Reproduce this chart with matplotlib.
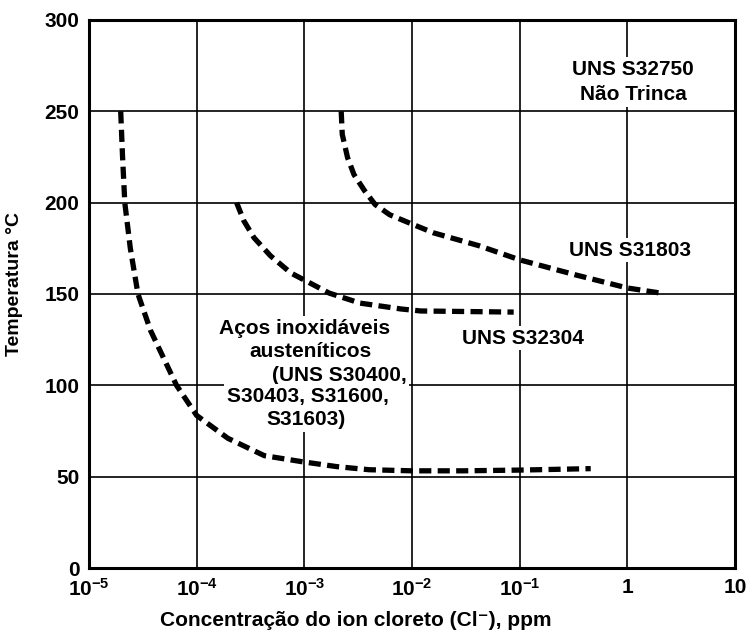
import matplotlib
matplotlib.use("Agg")
import matplotlib.pyplot as plt

plt.rcParams['font.family'] = ['Liberation Sans', 'DejaVu Sans']
plt.rcParams['mathtext.fontset'] = 'custom'
plt.rcParams['mathtext.rm'] = 'Liberation Sans:bold'
plt.rcParams['mathtext.it'] = 'Liberation Sans:bold'
plt.rcParams['mathtext.bf'] = 'Liberation Sans:bold'

# --- data ---
aust_x = [1.97e-5, 2.05e-5, 2.15e-5, 2.42e-5, 2.85e-5, 3.73e-5, 6.5e-5, 1.0e-4, 1.95e-4,
          4.25e-4, 9.5e-4, 2.0e-3, 4.0e-3, 1.0e-2, 3.0e-2, 1.0e-1, 0.457]
aust_T = [250, 225, 200, 175, 150, 130, 100, 83.5, 71, 61.5, 58.2, 55.5, 53.8, 53.2, 53.2, 53.6, 54.4]

s32304_x = [2.35e-4, 2.74e-4, 3.41e-4, 4.85e-4, 7.5e-4, 1.04e-3, 1.7e-3, 3.3e-3,
            7.9e-3, 1.21e-2, 8.8e-2]
s32304_T = [200, 190.1, 180.8, 170.9, 161.5, 157.1, 150.5, 145, 141.8, 140.7, 140.1]

s31803_x = [2.2e-3, 2.25e-3, 2.52e-3, 2.89e-3, 3.62e-3, 4.54e-3, 6.2e-3, 9.8e-3,
            1.58e-2, 4.2e-2, 1.0e-1, 0.334, 1.0, 2.04]
s31803_T = [250, 237.4, 224.7, 215.4, 206.6, 199, 193.4, 188.5, 183.5, 176.4, 168.7,
            160.4, 153.3, 150.5]

x_ticks = [1e-5, 1e-4, 1e-3, 1e-2, 1e-1, 1, 10]
x_tick_labels = [r'$10^{-5}$', r'$10^{-4}$', r'$10^{-3}$', r'$10^{-2}$', r'$10^{-1}$', '1', '10']
y_ticks = [0, 50, 100, 150, 200, 250, 300]

fig = plt.figure(figsize=(7.48, 6.32), dpi=100)
ax = fig.add_axes([89/748, 64/632, 646/748, 548/632])
ax.set_xscale('log')
ax.set_xlim(1e-5, 10)
ax.set_ylim(0, 300)
ax.set_xticks(x_ticks)
ax.set_xticklabels(x_tick_labels)
ax.set_yticks(y_ticks)
ax.minorticks_off()
ax.tick_params(length=0, labelsize=15, pad=7)
for lab in ax.get_xticklabels() + ax.get_yticklabels():
    lab.set_fontweight('bold')
ax.grid(True, color='black', linewidth=1.2, zorder=1)
ax.set_axisbelow(True)
for sp in ax.spines.values():
    sp.set_linewidth(2.2)
    sp.set_zorder(5)

dash = dict(color='black', linewidth=3.8, dashes=(2.3, 1.2), dash_capstyle='butt', zorder=4)
ax.plot(aust_x, aust_T, **dash)
ax.plot(s32304_x, s32304_T, **dash)
ax.plot(s31803_x, s31803_T, **dash)

tkw = dict(fontsize=15, fontweight='bold', ha='center', va='center', zorder=3,
           bbox=dict(facecolor='white', edgecolor='none', pad=2.0))
ax.text(1.13, 266, 'UNS S32750\nNão Trinca', linespacing=1.45, **tkw)
ax.text(1.06, 174, 'UNS S31803', **tkw)
ax.text(0.107, 125.8, 'UNS S32304', **tkw)
ax.text(1.0e-3, 131.3, 'Aços inoxidáveis', **tkw)
ax.text(1.14e-3, 118.7, 'austeníticos', **tkw)
ax.text(2.11e-3, 105.5, '(UNS S30400,', **tkw)
ax.text(1.07e-3, 94, 'S30403, S31600,', **tkw)
ax.text(1.04e-3, 81.3, 'S31603)', **tkw)

fig.text(356/748, 1 - 620/632, 'Concentração do ion cloreto (Cl⁻), ppm',
         fontsize=15, fontweight='bold', ha='center', va='center')
fig.text(15/748, 1 - 284/632, 'Temperatura °C', rotation=90,
         fontsize=14, fontweight='bold', ha='center', va='center')

fig.savefig('out.png', dpi=100, facecolor='white')
